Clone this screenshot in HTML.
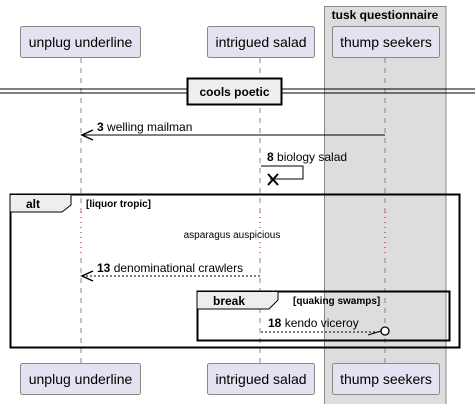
<!DOCTYPE html>
<html><head><style>body{margin:0;background:#fff}svg{display:block}text{font-family:"Liberation Sans",sans-serif}</style></head>
<body>
<svg width="475" height="404" viewBox="0 0 475 404" xmlns="http://www.w3.org/2000/svg">
<rect x="324.5" y="6.5" width="121.5" height="400" fill="#dddddd" stroke="#888" stroke-width="1"/>
<text x="385" y="19" font-size="12" font-weight="bold" text-anchor="middle" fill="#000">tusk questionnaire</text>
<g stroke="#888" stroke-dasharray="5,5" stroke-width="1">
<line x1="81" y1="58" x2="81" y2="363"/>
<line x1="260" y1="58" x2="260" y2="363"/>
<line x1="385" y1="58" x2="385" y2="363"/>
</g>
<g fill="#e2e2f0" stroke="#888" stroke-width="1">
<rect x="20.5" y="26.5" width="120" height="31" rx="2"/>
<rect x="207.5" y="26.5" width="107" height="31" rx="2"/>
<rect x="332.5" y="26.5" width="107" height="31" rx="2"/>
<rect x="20.5" y="363.5" width="120" height="31" rx="2"/>
<rect x="207.5" y="363.5" width="107" height="31" rx="2"/>
<rect x="332.5" y="363.5" width="107" height="31" rx="2"/>
</g>
<g font-size="14" text-anchor="middle" fill="#000">
<text x="80.5" y="47">unplug underline</text>
<text x="261" y="47">intrigued salad</text>
<text x="386" y="47">thump seekers</text>
<text x="80.5" y="384">unplug underline</text>
<text x="261" y="384">intrigued salad</text>
<text x="386" y="384">thump seekers</text>
</g>
<line x1="0" y1="89" x2="475" y2="89" stroke="#000"/>
<line x1="0" y1="93" x2="475" y2="93" stroke="#000"/>
<rect x="187.5" y="78.5" width="94" height="26" fill="#eeeeee" stroke="#000" stroke-width="2"/>
<text x="234.5" y="96" font-size="12" font-weight="bold" text-anchor="middle">cools poetic</text>
<line x1="385" y1="135" x2="82" y2="135" stroke="#000"/>
<polyline points="93,130 82,135 93,140" fill="none" stroke="#000" stroke-width="1.5"/>
<text x="97" y="131" font-size="12"><tspan font-weight="bold">3</tspan> welling mailman</text>
<polyline points="261,166 303,166 303,179 270,179" fill="none" stroke="#000"/>
<path d="M268,174 L278,185 M278,174 L268,185" stroke="#000" stroke-width="2"/>
<text x="267" y="161" font-size="12"><tspan font-weight="bold">8</tspan> biology salad</text>
<rect x="10.5" y="194.5" width="449" height="153" fill="none" stroke="#000" stroke-width="2"/>
<path d="M10.5,194.5 H71 V205 L62,212 H10.5" fill="#eeeeee" stroke="#000" stroke-width="1"/>
<text x="26" y="208" font-size="12" font-weight="bold">alt</text>
<text x="86" y="207" font-size="10" font-weight="bold">[liquor tropic]</text>
<g stroke="#fff" stroke-width="2"><line x1="81" y1="212" x2="81" y2="255"/><line x1="260" y1="212" x2="260" y2="255"/></g>
<line x1="385" y1="212" x2="385" y2="255" stroke="#dddddd" stroke-width="2"/>
<g stroke="#a80036" stroke-dasharray="1,4"><line x1="81" y1="212" x2="81" y2="255"/><line x1="260" y1="212" x2="260" y2="255"/><line x1="385" y1="212" x2="385" y2="255"/></g>
<text x="232" y="238" font-size="10" text-anchor="middle">asparagus auspicious</text>
<line x1="260" y1="276" x2="82" y2="276" stroke="#000" stroke-dasharray="2,2"/>
<polyline points="93,271 82,276 93,281" fill="none" stroke="#000" stroke-width="1.5"/>
<text x="97" y="272" font-size="12"><tspan font-weight="bold">13</tspan> denominational crawlers</text>
<rect x="197.5" y="291.5" width="252" height="49" fill="none" stroke="#000" stroke-width="2"/>
<path d="M197.5,291.5 H278 V300 L269,309 H197.5" fill="#eeeeee" stroke="#000" stroke-width="1"/>
<text x="213" y="305" font-size="12" font-weight="bold">break</text>
<text x="293" y="304" font-size="10" font-weight="bold">[quaking swamps]</text>
<line x1="261" y1="332" x2="381" y2="332" stroke="#000" stroke-dasharray="2,2"/>
<line x1="368" y1="335" x2="381" y2="331" stroke="#000"/>
<circle cx="385" cy="331" r="4" fill="#fff" stroke="#000" stroke-width="1.3"/>
<text x="268" y="327" font-size="12"><tspan font-weight="bold">18</tspan> kendo viceroy</text>
</svg>
</body></html>
